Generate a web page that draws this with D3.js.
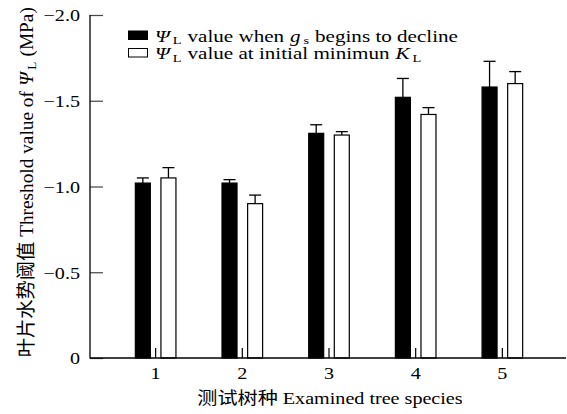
<!DOCTYPE html>
<html>
<head>
<meta charset="utf-8">
<script src="https://cdn.jsdelivr.net/npm/d3@7"></script>
<style>
  body { margin: 0; background: #fff; }
  svg text { font-family: "Liberation Serif", "Noto Sans CJK SC", serif; fill: #000; white-space: pre; }
</style>
</head>
<body>
<svg width="567" height="414"></svg>
<script>
const species = ["1", "2", "3", "4", "5"];
const seriesKeys = ["gs", "kl"];
// psi_L when gs begins to decline
const gsValues = [-1.02, -1.02, -1.31, -1.52, -1.58];
const gsErrors = [0.03, 0.02, 0.05, 0.11, 0.15];
// psi_L at initial minimum K_L
const klValues = [-1.05, -0.90, -1.30, -1.42, -1.60];
const klErrors = [0.06, 0.05, 0.02, 0.04, 0.07];
const yTicks = [0, -0.5, -1.0, -1.5, -2.0];

const svg = d3.select("svg");
const x0 = 90, x1 = 566, yTop = 15, yBot = 358;
const stretch = 1.15; // the source figure's type is a bit wide

const x = d3.scaleBand().domain(species).range([112.3, 545.7]).padding(0);
const xs = d3.scaleBand().domain(seriesKeys).range([-20.8, 20.8]).paddingInner(0.375);
const y = d3.scaleLinear().domain([0, -2]).range([yBot, yTop]);

const rows = species.map((s, i) => [
  { sp: s, key: "gs", v: gsValues[i], e: gsErrors[i] },
  { sp: s, key: "kl", v: klValues[i], e: klErrors[i] }
]).flat();

// lay out a run of pieces (italic / subscript) as separate text nodes
function richText(g, parts, size) {
  let cx = 0;
  parts.forEach(p => {
    const t = g.append("text").attr("x", cx).attr("y", p.sub ? size * 0.17 : 0)
      .attr("font-size", p.sub ? size * 0.68 : size)
      .text(p.t);
    if (p.i) t.attr("font-style", "italic");
    cx += t.node().getComputedTextLength() + (p.i ? 2.5 : 0.5);
  });
  return cx;
}

// error bars (drawn first, bars on top)
const err = svg.append("g").attr("stroke", "#000").attr("stroke-width", 1.3);
rows.forEach(d => {
  const cx = x(d.sp) + x.bandwidth() / 2 + xs(d.key) + xs.bandwidth() / 2;
  err.append("line").attr("x1", cx).attr("x2", cx).attr("y1", y(d.v)).attr("y2", y(d.v - d.e));
  err.append("line").attr("x1", cx - 6).attr("x2", cx + 6).attr("y1", y(d.v - d.e)).attr("y2", y(d.v - d.e));
});

svg.append("g").selectAll("rect")
  .data(rows)
  .enter().append("rect")
  .attr("x", d => x(d.sp) + x.bandwidth() / 2 + xs(d.key) + 0.5)
  .attr("y", d => y(d.v))
  .attr("width", xs.bandwidth() - 1)
  .attr("height", d => yBot - y(d.v))
  .attr("fill", d => d.key === "gs" ? "#000" : "#fff")
  .attr("stroke", "#000")
  .attr("stroke-width", 1.2);

// y axis
const yAxis = svg.append("g")
  .attr("transform", `translate(${x0},0)`)
  .call(d3.axisLeft(y).tickValues(yTicks).tickSizeInner(-13).tickSizeOuter(0).tickPadding(10)
    .tickFormat(d => d === 0 ? "0" : d3.format(".1f")(d)));
yAxis.select(".domain").remove();
yAxis.selectAll(".tick line").attr("stroke", "#444").attr("stroke-width", 1.2);
yAxis.selectAll("text").attr("font-size", 17.5).attr("dy", "0.33em")
  .attr("x", 0).attr("transform", `translate(-10,0) scale(${stretch},1)`);

// x axis
const xAxis = svg.append("g")
  .attr("transform", `translate(0,${yBot})`)
  .call(d3.axisBottom(x).tickSizeInner(-10).tickSizeOuter(0).tickPadding(9));
xAxis.select(".domain").remove();
xAxis.selectAll(".tick line").attr("stroke", "#000").attr("stroke-width", 1.2);
xAxis.selectAll("text").attr("font-size", 17.5).attr("transform", `scale(${stretch},1)`);

svg.append("line").attr("x1", x0).attr("x2", x0).attr("y1", yTop).attr("y2", yBot + 0.5)
  .attr("stroke", "#000").attr("stroke-width", 1.3);
svg.append("line").attr("x1", x0).attr("x2", x1).attr("y1", yBot).attr("y2", yBot)
  .attr("stroke", "#000").attr("stroke-width", 1.3);

// axis titles
svg.append("text")
  .attr("transform", `translate(330,404) scale(${stretch},1)`)
  .attr("text-anchor", "middle").attr("font-size", 17.5)
  .text("测试树种 Examined tree species");

const yl = svg.append("g");
const ylw = richText(yl, [
  { t: "叶片水势阈值 Threshold value of " },
  { t: "Ψ", i: true },
  { t: "L", sub: true },
  { t: " (MPa)" }
], 19.3);
yl.attr("transform", `translate(33,${182 + ylw / 2}) rotate(-90)`);

// legend
const legendItems = [
  { fill: "#000", parts: [{ t: "Ψ", i: true }, { t: "L", sub: true }, { t: " value when " }, { t: "g", i: true }, { t: "s", sub: true }, { t: " begins to decline" }] },
  { fill: "#fff", parts: [{ t: "Ψ", i: true }, { t: "L", sub: true }, { t: " value at initial minimun " }, { t: "K", i: true }, { t: "L", sub: true }] }
];
legendItems.forEach((item, i) => {
  svg.append("rect")
    .attr("x", 128.5).attr("y", 31 + i * 17.5)
    .attr("width", 19).attr("height", 8.5)
    .attr("fill", item.fill).attr("stroke", "#000").attr("stroke-width", 1);
  const g = svg.append("g").attr("transform", `translate(155,${41.5 + i * 17.5}) scale(1.2,0.92)`);
  richText(g, item.parts, 17.6);
});
</script>
</body>
</html>
